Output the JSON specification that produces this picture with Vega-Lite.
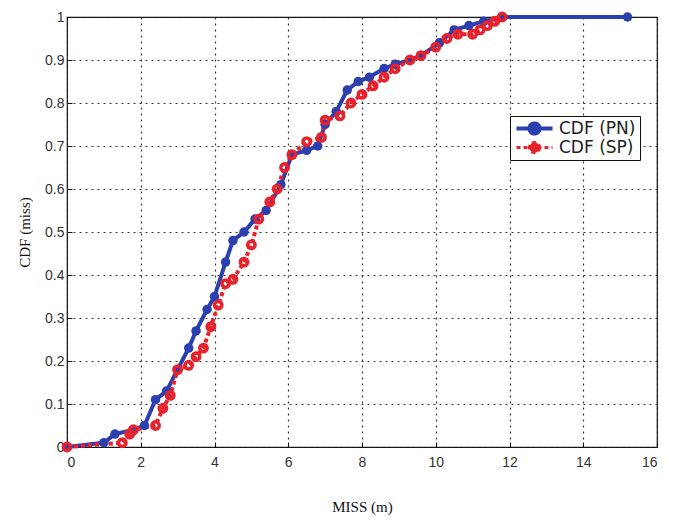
{
  "$schema": "https://vega.github.io/schema/vega-lite/v6.json",
  "autosize": "none",
  "padding": {"left": 67, "top": 17, "right": 26, "bottom": 78},
  "width": 590,
  "height": 430,
  "background": "white",
  "config": {
    "view": {"stroke": "#111", "strokeWidth": 1.2},
    "axis": {
      "labelFont": "Liberation Sans",
      "labelFontSize": 14,
      "labelColor": "#333",
      "titleFont": "Liberation Serif",
      "titleFontSize": 15,
      "titleFontWeight": "normal",
      "titleColor": "#111",
      "grid": true,
      "gridColor": "#222",
      "gridDash": [2, 4],
      "gridWidth": 1.2,
      "gridOpacity": 0.9,
      "domain": false,
      "tickSize": -5,
      "tickColor": "#111",
      "labelPadding": 8
    }
  },
  "data": {
    "values": [
      {"s": "CDF (PN)", "x": 0, "y": 0},
      {"s": "CDF (PN)", "x": 1.0, "y": 0.01},
      {"s": "CDF (PN)", "x": 1.3, "y": 0.03},
      {"s": "CDF (PN)", "x": 1.8, "y": 0.04},
      {"s": "CDF (PN)", "x": 2.1, "y": 0.05},
      {"s": "CDF (PN)", "x": 2.4, "y": 0.11},
      {"s": "CDF (PN)", "x": 2.7, "y": 0.13},
      {"s": "CDF (PN)", "x": 3.0, "y": 0.18},
      {"s": "CDF (PN)", "x": 3.3, "y": 0.23},
      {"s": "CDF (PN)", "x": 3.5, "y": 0.27},
      {"s": "CDF (PN)", "x": 3.8, "y": 0.32},
      {"s": "CDF (PN)", "x": 4.0, "y": 0.35},
      {"s": "CDF (PN)", "x": 4.3, "y": 0.43},
      {"s": "CDF (PN)", "x": 4.5, "y": 0.48},
      {"s": "CDF (PN)", "x": 4.8, "y": 0.50},
      {"s": "CDF (PN)", "x": 5.1, "y": 0.53},
      {"s": "CDF (PN)", "x": 5.4, "y": 0.55},
      {"s": "CDF (PN)", "x": 5.8, "y": 0.61},
      {"s": "CDF (PN)", "x": 6.1, "y": 0.68},
      {"s": "CDF (PN)", "x": 6.5, "y": 0.69},
      {"s": "CDF (PN)", "x": 6.8, "y": 0.70},
      {"s": "CDF (PN)", "x": 7.0, "y": 0.75},
      {"s": "CDF (PN)", "x": 7.3, "y": 0.78},
      {"s": "CDF (PN)", "x": 7.6, "y": 0.83},
      {"s": "CDF (PN)", "x": 7.9, "y": 0.85},
      {"s": "CDF (PN)", "x": 8.2, "y": 0.86},
      {"s": "CDF (PN)", "x": 8.6, "y": 0.88},
      {"s": "CDF (PN)", "x": 8.9, "y": 0.89},
      {"s": "CDF (PN)", "x": 9.3, "y": 0.90},
      {"s": "CDF (PN)", "x": 9.6, "y": 0.91},
      {"s": "CDF (PN)", "x": 10.1, "y": 0.94},
      {"s": "CDF (PN)", "x": 10.5, "y": 0.97},
      {"s": "CDF (PN)", "x": 10.9, "y": 0.98},
      {"s": "CDF (PN)", "x": 11.3, "y": 0.99},
      {"s": "CDF (PN)", "x": 11.8, "y": 1.0},
      {"s": "CDF (PN)", "x": 15.2, "y": 1.0},
      {"s": "CDF (SP)", "x": 0, "y": 0},
      {"s": "CDF (SP)", "x": 1.5, "y": 0.01},
      {"s": "CDF (SP)", "x": 1.7, "y": 0.03},
      {"s": "CDF (SP)", "x": 1.8, "y": 0.04},
      {"s": "CDF (SP)", "x": 2.4, "y": 0.05},
      {"s": "CDF (SP)", "x": 2.6, "y": 0.09},
      {"s": "CDF (SP)", "x": 2.8, "y": 0.12},
      {"s": "CDF (SP)", "x": 3.0, "y": 0.18},
      {"s": "CDF (SP)", "x": 3.3, "y": 0.19},
      {"s": "CDF (SP)", "x": 3.5, "y": 0.21},
      {"s": "CDF (SP)", "x": 3.7, "y": 0.23},
      {"s": "CDF (SP)", "x": 3.9, "y": 0.28},
      {"s": "CDF (SP)", "x": 4.1, "y": 0.33},
      {"s": "CDF (SP)", "x": 4.3, "y": 0.38},
      {"s": "CDF (SP)", "x": 4.5, "y": 0.39},
      {"s": "CDF (SP)", "x": 4.8, "y": 0.43},
      {"s": "CDF (SP)", "x": 5.0, "y": 0.47},
      {"s": "CDF (SP)", "x": 5.2, "y": 0.53},
      {"s": "CDF (SP)", "x": 5.5, "y": 0.57},
      {"s": "CDF (SP)", "x": 5.7, "y": 0.60},
      {"s": "CDF (SP)", "x": 5.9, "y": 0.65},
      {"s": "CDF (SP)", "x": 6.1, "y": 0.68},
      {"s": "CDF (SP)", "x": 6.5, "y": 0.71},
      {"s": "CDF (SP)", "x": 6.9, "y": 0.72},
      {"s": "CDF (SP)", "x": 7.0, "y": 0.76},
      {"s": "CDF (SP)", "x": 7.4, "y": 0.77},
      {"s": "CDF (SP)", "x": 7.7, "y": 0.80},
      {"s": "CDF (SP)", "x": 8.0, "y": 0.82},
      {"s": "CDF (SP)", "x": 8.3, "y": 0.84},
      {"s": "CDF (SP)", "x": 8.6, "y": 0.86},
      {"s": "CDF (SP)", "x": 8.9, "y": 0.88},
      {"s": "CDF (SP)", "x": 9.3, "y": 0.90},
      {"s": "CDF (SP)", "x": 9.6, "y": 0.91},
      {"s": "CDF (SP)", "x": 10.0, "y": 0.93},
      {"s": "CDF (SP)", "x": 10.3, "y": 0.95},
      {"s": "CDF (SP)", "x": 10.6, "y": 0.96},
      {"s": "CDF (SP)", "x": 11.0, "y": 0.96},
      {"s": "CDF (SP)", "x": 11.2, "y": 0.97},
      {"s": "CDF (SP)", "x": 11.4, "y": 0.98},
      {"s": "CDF (SP)", "x": 11.6, "y": 0.99},
      {"s": "CDF (SP)", "x": 11.8, "y": 1.0}
    ]
  },
  "encoding": {
    "x": {
      "field": "x", "type": "quantitative", "title": "MISS (m)",
      "scale": {"domain": [0, 16], "nice": false},
      "axis": {"values": [0, 2, 4, 6, 8, 10, 12, 14, 16], "labelPadding": 13, "titlePadding": 30}
    },
    "y": {
      "field": "y", "type": "quantitative", "title": "CDF (miss)",
      "scale": {"domain": [0, 1], "nice": false},
      "axis": {
        "values": [0, 0.1, 0.2, 0.3, 0.4, 0.5, 0.6, 0.7, 0.8, 0.9, 1],
        "labelExpr": "datum.value == 0 ? '0' : datum.value == 1 ? '1' : format(datum.value, '.1f')",
        "titlePadding": 12
      }
    },
    "color": {
      "field": "s", "type": "nominal",
      "scale": {"domain": ["CDF (PN)", "CDF (SP)"], "range": ["#2b3faf", "#e8222c"]},
      "legend": {
        "title": null,
        "orient": "none",
        "legendX": 443,
        "legendY": 99,
        "symbolType": "M-1,0H5M2.85,0C2.85,0.469 2.469,0.85 2,0.85C1.531,0.85 1.15,0.469 1.15,0C1.15,-0.469 1.531,-0.85 2,-0.85C2.469,-0.85 2.85,-0.469 2.85,0Z",
        "symbolSize": 144,
        "symbolStrokeWidth": 4,
        "labelFont": "DejaVu Sans",
        "labelFontSize": 17,
        "labelColor": "#222",
        "labelOffset": 28,
        "labelExpr": "datum.label + '\u00a0\u00a0\u00a0\u00a0'",
        "clipHeight": 17,
        "rowPadding": 1,
        "padding": 4,
        "strokeColor": "#111",
        "fillColor": "white",
        "encode": {
          "symbols": {
            "update": {
              "stroke": {"signal": "datum.value == 'CDF (PN)' ? '#2b3faf' : '#e8222c'"},
              "fill": {"signal": "datum.value == 'CDF (PN)' ? '#2b3faf' : 'white'"},
              "strokeDash": {"signal": "datum.value == 'CDF (PN)' ? [1,0] : [3,2]"},
              "opacity": {"value": 1}
            }
          }
        }
      }
    }
  },
  "layer": [
    {
      "mark": {"type": "line", "strokeWidth": 4},
      "encoding": {
        "strokeDash": {
          "field": "s", "type": "nominal",
          "scale": {"domain": ["CDF (PN)", "CDF (SP)"], "range": [[1, 0], [4, 3]]},
          "legend": null
        },
        "strokeWidth": {
          "field": "s", "type": "nominal",
          "scale": {"domain": ["CDF (PN)", "CDF (SP)"], "range": [4, 3]},
          "legend": null
        }
      }
    },
    {
      "mark": {"type": "point", "filled": true, "size": 90, "opacity": 1},
      "transform": [{"filter": "datum.s == 'CDF (PN)'"}]
    },
    {
      "mark": {"type": "point", "filled": false, "size": 55, "strokeWidth": 3.5, "opacity": 1},
      "transform": [{"filter": "datum.s == 'CDF (SP)'"}]
    }
  ]
}
